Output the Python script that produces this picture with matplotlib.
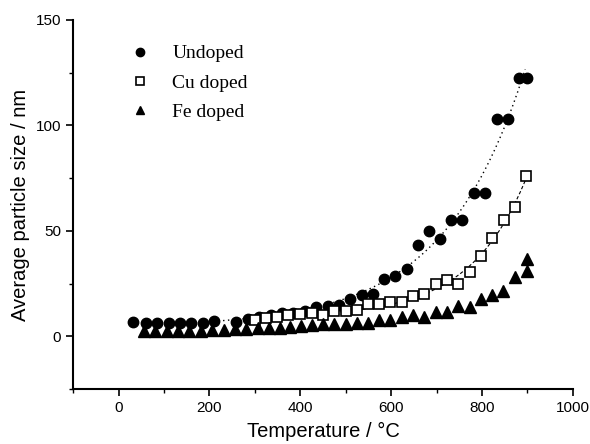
import numpy as np
import matplotlib.pyplot as plt
from matplotlib.ticker import MultipleLocator

# Data
t_undoped = [32, 60, 85, 110, 135, 160, 185, 209, 259, 284, 310, 336, 360, 384,
             410, 435, 460, 485, 510, 535, 560, 585, 609, 634, 658, 683, 708,
             732, 757, 782, 806, 832, 857, 881, 898]
undoped = [6.8, 6.5, 6.5, 6.5, 6.5, 6.5, 6.5, 7.2, 6.8, 8.4, 9.2, 10.0, 10.8, 11.0,
           12.0, 13.7, 14.3, 14.9, 17.6, 19.5, 19.8, 27.0, 28.6, 31.7, 43.2, 50.0,
           46.2, 54.9, 54.9, 68.0, 68.0, 103.0, 103.0, 122.7, 122.7]

t_cu = [300, 325, 349, 374, 400, 425, 450, 475, 500, 524, 549, 573, 598, 623,
        649, 673, 698, 723, 748, 773, 798, 822, 848, 873, 897]
cu = [7.6, 8.5, 9.0, 10.0, 10.5, 10.8, 10.3, 11.9, 12.0, 12.4, 15.1, 15.1, 16.3,
      16.3, 19.3, 19.8, 24.8, 26.5, 24.8, 30.6, 38.0, 46.8, 55.0, 61.5, 75.9]

t_fe = [55, 81, 106, 131, 156, 181, 206, 231, 256, 281, 306, 330, 355, 378, 401,
        425, 450, 475, 500, 524, 549, 574, 598, 623, 648, 673, 698, 723, 748, 773,
        798, 822, 847, 872, 898, 898]
fe = [2.7, 2.7, 2.7, 2.7, 2.7, 2.7, 2.8, 3.0, 3.2, 3.5, 3.7, 3.9, 4.1, 4.5, 4.9,
      5.2, 5.6, 5.7, 6.0, 6.3, 6.3, 7.6, 7.9, 9.2, 10.0, 8.9, 11.3, 11.3, 14.4,
      14.0, 17.5, 19.5, 21.4, 28.3, 31.0, 36.7]


def exp_fit(t, y):
    # y = y0 + A*exp(t/tau), tau by grid search, y0 and A by least squares
    t = np.asarray(t, float)
    y = np.asarray(y, float)
    best = None
    for tau in np.linspace(80, 400, 321):
        M = np.column_stack([np.ones_like(t), np.exp(t / tau)])
        coef, *_ = np.linalg.lstsq(M, y, rcond=None)
        err = np.sum((M @ coef - y) ** 2)
        if best is None or err < best[0]:
            best = (err, tau, coef)
    _, tau, coef = best
    return lambda x: coef[0] + coef[1] * np.exp(x / tau)


fit_u = exp_fit(t_undoped, undoped)
fit_c = exp_fit(t_cu, cu)

fig, ax = plt.subplots(figsize=(5.9, 4.44), dpi=100)
fig.subplots_adjust(left=0.124, right=0.971, bottom=0.124, top=0.955)

xs = np.linspace(230, 895, 200)
ax.plot(xs, fit_u(xs), color='black', linestyle=(0, (1, 2.5)), linewidth=1.0)
xs2 = np.linspace(280, 900, 200)
ax.plot(xs2, fit_c(xs2), color='black', linestyle=(0, (3, 2)), linewidth=0.8)

ax.plot(t_undoped, undoped, 'o', color='black', markersize=7.5, linestyle='none',
        label='Undoped')
ax.plot(t_cu, cu, 's', markerfacecolor='white', markeredgecolor='black',
        markeredgewidth=1.2, markersize=6.5, linestyle='none', label='Cu doped')
ax.plot(t_fe, fe, '^', color='black', markersize=8, linestyle='none',
        label='Fe doped')

ax.set_xlim(-100, 1000)
ax.set_ylim(-25, 150)
ax.xaxis.set_major_locator(MultipleLocator(200))
ax.xaxis.set_minor_locator(MultipleLocator(100))
ax.yaxis.set_major_locator(MultipleLocator(50))
ax.yaxis.set_minor_locator(MultipleLocator(25))

for s in ['top', 'right']:
    ax.spines[s].set_visible(False)
for s in ['left', 'bottom']:
    ax.spines[s].set_linewidth(1.5)
ax.tick_params(which='major', direction='out', length=5, width=1.2,
               labelsize=11)
ax.tick_params(which='minor', direction='out', length=3, width=1.0)
for lab in ax.get_xticklabels() + ax.get_yticklabels():
    lab.set_family('Liberation Sans')

ax.set_xlabel('Temperature / °C', fontsize=14.5, family='Liberation Sans',
              labelpad=5)
ax.set_ylabel('Average particle size / nm', fontsize=14.5, family='Liberation Sans',
              labelpad=4)

leg = ax.legend(loc='upper left', bbox_to_anchor=(0.07, 0.98), frameon=False,
                prop={'family': 'Liberation Serif', 'size': 14},
                markerscale=0.8, handletextpad=0.9, labelspacing=0.6,
                handlelength=1.5)

fig.savefig('out.png', dpi=100)
